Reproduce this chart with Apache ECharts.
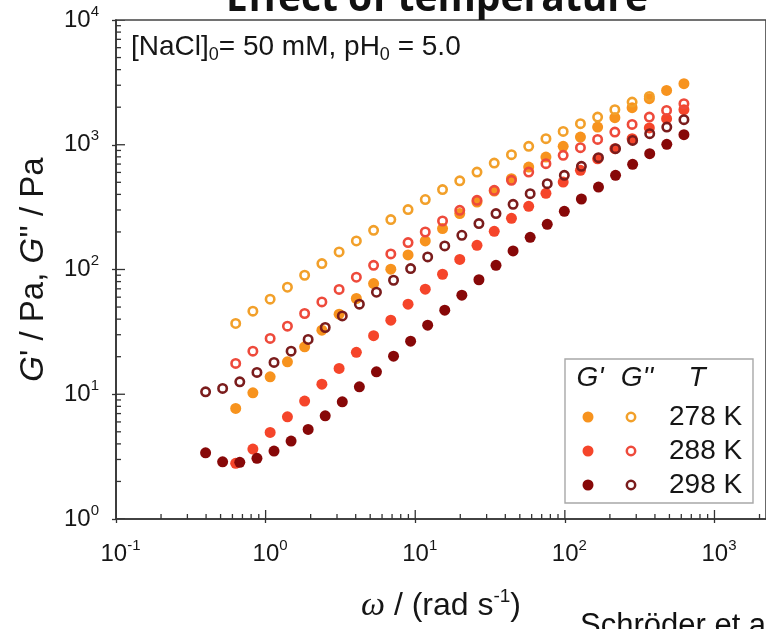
<!DOCTYPE html>
<html><head><meta charset="utf-8">
<script src="https://cdn.jsdelivr.net/npm/echarts@6/dist/echarts.min.js"></script>
<style>html,body{margin:0;padding:0;background:#fff}#c{width:766px;height:629px}</style>
</head><body><div id="c"></div><script>
// ---- data ----
const w278 = [0.631,0.822,1.072,1.399,1.823,2.377,3.099,4.041,5.269,6.867,8.954,11.67,15.22,19.84,25.87,33.73,43.97,57.33,74.75,97.45,127.1,165.6,215.9,281.5,367.0,478.6,625];
const w288 = [0.631,0.822,1.072,1.399,1.823,2.377,3.099,4.041,5.269,6.867,8.954,11.67,15.22,19.84,25.87,33.73,43.97,57.33,74.75,97.45,127.1,165.6,215.9,281.5,367.0,478.6,625];
const w298 = [0.397,0.516,0.672,0.875,1.138,1.480,1.924,2.502,3.254,4.233,5.505,7.161,9.314,12.11,15.75,20.49,26.65,34.66,45.08,58.63,76.26,99.19,129.0,167.8,218.2,283.8,369.1,480.1,625];

const Gp278  = [7.70,10.27,13.79,18.18,23.98,32.63,43.81,58.55,77.18,100.5,130.8,169.3,212.8,280.6,347.5,425.7,535.0,662.7,796.9,970.5,1152,1385,1648,1981,2339,2726,3085];
const Gpp278 = [36.92,46.31,57.78,72.09,89.95,111.6,138.2,169.3,206.2,251.2,302.1,363.9,436.8,513.6,604.2,713.4,833.0,970.5,1119,1280,1475,1666,1910,2197,2441];
const Gp288  = [2.793,3.636,4.947,6.597,8.81,12.05,16.10,21.67,29.48,39.23,52.70,69.47,91.62,120.4,156.4,202.5,257.3,321.0,407.9,502.5,623.5,770.7,930.2,1119,1365,1618,1910];
const Gpp288 = [17.65,22.15,28.00,35.13,44.39,54.98,69.21,86.70,108.1,133.2,164.4,199.8,244.8,298.3,358.5,431.1,518.3,604.2,705.6,822.1,947.5,1104,1264,1456,1666,1885,2133];
const Gp298  = [3.395,2.876,2.845,3.063,3.504,4.213,5.229,6.719,8.698,11.47,15.12,20.20,26.64,35.78,47.18,62.21,82.78,108.1,140.8,181.3,230.3,292.8,367.3,458.3,568.6,696.2,848.3,1007,1204];
const Gpp298 = [10.46,11.14,12.58,14.95,17.98,22.15,27.48,34.29,42.46,52.70,65.74,82.02,101.8,126.1,154.4,188.1,233.3,280.6,333.0,405.7,487.9,568.6,671.2,788.0,930.2,1084,1227,1385,1588];

const temperatures = ['278 K','288 K','298 K'];
const xMajorTicks = [0.1,1,10,100,1000];
const xMinorTicks = [0.2,0.3,0.4,0.5,0.6,0.7,0.8,0.9,2,3,4,5,6,7,8,9,20,30,40,50,60,70,80,90,200,300,400,500,600,700,800,900,2000];
const yMajorTicks = [1,10,100,1000,10000];
const yMinorTicks = [2,3,4,5,6,7,8,9,20,30,40,50,60,70,80,90,200,300,400,500,600,700,800,900,2000,3000,4000,5000,6000,7000,8000,9000];

// ---- styles ----
const FONT = 'Liberation Sans, Arial, sans-serif';
const TXT = '#161616';
const colFill = ['#f7931e','#f5452a','#870808'];
const colRing = ['#f2a02a','#ee4a3b','#7a1c1c'];
const X_MIN = 0.1, X_MAX = 2210, Y_MIN = 1, Y_MAX = 10000;

function zip(xs, ys){ return ys.map((y,i)=>[xs[i], y]); }
function powLabel(v){
  const e = Math.log10(v), r = Math.round(e);
  if (Math.abs(e - r) > 1e-6) return '';
  return '{b|10}{s|' + r + '}';
}
const labelRich = {
  b:{fontSize:24,fontFamily:FONT,color:TXT,lineHeight:32},
  s:{fontSize:15,fontFamily:FONT,color:TXT,lineHeight:15,verticalAlign:'top'}
};

function filled(name, xs, ys, c){
  return {name, type:'scatter', data:zip(xs,ys), symbol:'circle', symbolSize:11,
    itemStyle:{color:c, opacity:1}, z:3, silent:true};
}
function ring(name, xs, ys, c){
  return {name, type:'scatter', data:zip(xs,ys), symbol:'circle', symbolSize:8.4,
    itemStyle:{color:'rgba(0,0,0,0)', borderColor:c, borderWidth:2.6, opacity:1}, z:4, silent:true};
}
function tickSeries(vals, dir, len){
  return {type:'custom', coordinateSystem:'cartesian2d', silent:true, z:5, clip:true,
    data: vals.map(v => dir==='x' ? [v, Y_MIN] : [X_MIN, v]),
    renderItem:(params, api)=>{
      const p = api.coord([api.value(0), api.value(1)]);
      const shape = dir==='x' ? {x1:p[0],y1:p[1],x2:p[0],y2:p[1]-len} : {x1:p[0],y1:p[1],x2:p[0]+len,y2:p[1]};
      return {type:'line', shape, style:{stroke:'#333', lineWidth:1.3}};
    }};
}

const chart = echarts.init(document.getElementById('c'), null, {renderer:'canvas'});
const LX = 565, LY = 359;
chart.setOption({
  animation:false,
  backgroundColor:'#fff',
  grid:{left:116, right:-10, top:20, bottom:110, show:true, borderColor:'#444', borderWidth:1.6, backgroundColor:'transparent'},
  xAxis:{type:'log', logBase:10, min:X_MIN, max:X_MAX,
    axisLine:{show:true, onZero:false, lineStyle:{color:'#333', width:1.6}},
    axisTick:{show:true, inside:false, length:4, lineStyle:{color:'#333', width:1.3}},
    minorTick:{show:false}, splitLine:{show:false},
    axisLabel:{formatter:powLabel, rich:labelRich, margin:19, showMaxLabel:false, padding:[0,0,0,9]},
    name:'{w|ω} / (rad s{s|-1})', nameLocation:'middle', nameGap:68,
    nameTextStyle:{fontSize:32, fontFamily:FONT, color:TXT, rich:{
      w:{fontSize:34, fontFamily:'Liberation Serif, serif', fontStyle:'italic', color:TXT, lineHeight:38},
      s:{fontSize:19, fontFamily:FONT, color:TXT, lineHeight:19, verticalAlign:'top'}}}
  },
  yAxis:{type:'log', logBase:10, min:Y_MIN, max:Y_MAX,
    axisLine:{show:true, onZero:false, lineStyle:{color:'#333', width:1.6}},
    axisTick:{show:true, inside:false, length:4, lineStyle:{color:'#333', width:1.3}},
    minorTick:{show:false}, splitLine:{show:false},
    axisLabel:{formatter:powLabel, rich:labelRich, margin:17},
    name:"{i|G}' / Pa, {i|G}'' / Pa", nameLocation:'middle', nameGap:66, nameRotate:90,
    nameTextStyle:{fontSize:33, fontFamily:FONT, color:TXT, rich:{
      i:{fontSize:33, fontFamily:FONT, fontStyle:'italic', color:TXT}}}
  },
  series:[
    filled("G' 278 K", w278, Gp278, colFill[0]),
    filled("G' 288 K", w288, Gp288, colFill[1]),
    filled("G' 298 K", w298, Gp298, colFill[2]),
    ring("G'' 278 K", w278, Gpp278, colRing[0]),
    ring("G'' 288 K", w288, Gpp288, colRing[1]),
    ring("G'' 298 K", w298, Gpp298, colRing[2]),
    tickSeries(xMinorTicks,'x',5), tickSeries(xMajorTicks,'x',9),
    tickSeries(yMinorTicks,'y',5), tickSeries(yMajorTicks,'y',9)
  ],
  graphic:[
    {type:'text', x:437, y:19, z:10, style:{text:'Effect of temperature', font:'bold 39px "Open Sans", sans-serif', fill:'#111', align:'center', verticalAlign:'bottom'}},
    {type:'text', x:131, y:47, z:10, style:{
      text:'[NaCl]{sub|0}= 50 mM, pH{sub|0} = 5.0', fontSize:28, fontFamily:FONT, fill:TXT, verticalAlign:'middle',
      rich:{sub:{fontSize:18, fontFamily:FONT, fill:TXT, lineHeight:18, verticalAlign:'bottom'}}, lineHeight:35}},
    // legend
    {type:'rect', z:10, shape:{x:LX, y:LY, width:188, height:144}, style:{fill:'#fff', stroke:'#a8a8a8', lineWidth:1.4}},
    {type:'text', z:11, x:590, y:378, style:{text:"G'", font:'italic 28px Liberation Sans, Arial', fill:TXT, align:'center', verticalAlign:'middle'}},
    {type:'text', z:11, x:637, y:378, style:{text:"G''", font:'italic 28px Liberation Sans, Arial', fill:TXT, align:'center', verticalAlign:'middle'}},
    {type:'text', z:11, x:697, y:378, style:{text:'T', font:'italic 28px Liberation Sans, Arial', fill:TXT, align:'center', verticalAlign:'middle'}},
    ...temperatures.flatMap((t,i)=>{
      const cy = [417,451,485][i];
      return [
        {type:'circle', z:11, shape:{cx:588, cy, r:5.5}, style:{fill:colFill[i]}},
        {type:'circle', z:11, shape:{cx:631, cy, r:4.2}, style:{fill:'none', stroke:colRing[i], lineWidth:2.5}},
        {type:'text', z:11, x:669, y:cy, style:{text:t, font:'28px Liberation Sans, Arial', fill:TXT, align:'left', verticalAlign:'middle'}}
      ];
    }),
    {type:'text', x:580, y:611, z:10, style:{text:'Schröder et al.', font:'31px Liberation Sans, Arial', fill:'#111', align:'left', verticalAlign:'top'}}
  ]
});
</script></body></html>
